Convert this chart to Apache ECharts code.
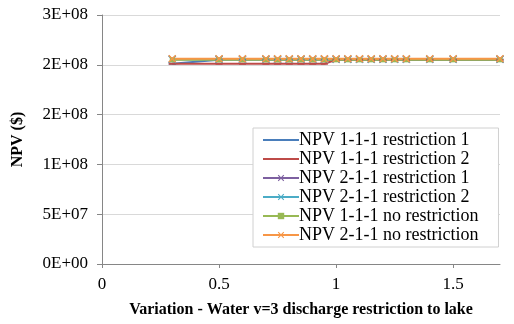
<!DOCTYPE html>
<html>
<head>
<meta charset="utf-8">
<script src="https://cdn.jsdelivr.net/npm/echarts@6/dist/echarts.min.js"></script>
<style>
  html, body { margin: 0; padding: 0; background: #fff; }
  #chart { width: 514px; height: 324px; }
</style>
</head>
<body>
<div id="chart"></div>
<script>
// Variation values along the x axis
const variation = [0.3, 0.5, 0.6, 0.7, 0.75, 0.8, 0.85, 0.9, 0.95, 1.0, 1.05, 1.1, 1.15, 1.2, 1.25, 1.3, 1.4, 1.5, 1.7];

// NPV ($) for each case
const npv111r1 = [2.01e8, 2.05e8, 2.05e8, 2.05e8, 2.05e8, 2.05e8, 2.05e8, 2.05e8, 2.05e8, 2.05e8, 2.05e8, 2.05e8, 2.05e8, 2.05e8, 2.05e8, 2.05e8, 2.05e8, 2.05e8, 2.05e8];
const npv111r2 = [2.01e8, 2.01e8, 2.01e8, 2.01e8, 2.01e8, 2.01e8, 2.01e8, 2.01e8, 2.01e8, 2.05e8, 2.05e8, 2.05e8, 2.05e8, 2.05e8, 2.05e8, 2.05e8, 2.05e8, 2.05e8, 2.05e8];
const npv211r1 = [2.055e8, 2.055e8, 2.055e8, 2.055e8, 2.055e8, 2.055e8, 2.055e8, 2.055e8, 2.055e8, 2.055e8, 2.055e8, 2.055e8, 2.055e8, 2.055e8, 2.055e8, 2.055e8, 2.055e8, 2.055e8, 2.055e8];
const npv211r2 = [2.055e8, 2.055e8, 2.055e8, 2.055e8, 2.055e8, 2.055e8, 2.055e8, 2.055e8, 2.055e8, 2.055e8, 2.055e8, 2.055e8, 2.055e8, 2.055e8, 2.055e8, 2.055e8, 2.055e8, 2.055e8, 2.055e8];
const npv111nr = [2.05e8, 2.05e8, 2.05e8, 2.05e8, 2.05e8, 2.05e8, 2.05e8, 2.05e8, 2.05e8, 2.05e8, 2.05e8, 2.05e8, 2.05e8, 2.05e8, 2.05e8, 2.05e8, 2.05e8, 2.05e8, 2.05e8];
const npv211nr = [2.06e8, 2.06e8, 2.06e8, 2.06e8, 2.06e8, 2.06e8, 2.06e8, 2.06e8, 2.06e8, 2.06e8, 2.06e8, 2.06e8, 2.06e8, 2.06e8, 2.06e8, 2.06e8, 2.06e8, 2.06e8, 2.06e8];

const seriesNames = [
  'NPV 1-1-1 restriction 1',
  'NPV 1-1-1 restriction 2',
  'NPV 2-1-1 restriction 1',
  'NPV 2-1-1 restriction 2',
  'NPV 1-1-1 no restriction',
  'NPV 2-1-1 no restriction'
];

const FONT = '"Liberation Serif", "Times New Roman", serif';
const CROSS = 'path://M0,1.2 L1.2,0 L5,3.8 L8.8,0 L10,1.2 L6.2,5 L10,8.8 L8.8,10 L5,6.2 L1.2,10 L0,8.8 L3.8,5 Z';
// Short horizontal bar centred in a square box (tiny anchor points keep the box square)
const DASH = 'path://M5,0 L5.001,0 L5.001,0.001 Z M1,3.5 L9,3.5 L9,6.5 L1,6.5 Z M5,10 L5.001,10 L5.001,9.999 Z';

function pairs(ys) { return variation.map((x, i) => [x, ys[i]]); }

// Spreadsheet-style scientific format, e.g. 5E+07
function excelExp(v) {
  if (v === 0) return '0E+00';
  const s = v.toExponential(0);
  const [m, e] = s.split('e');
  const sign = e[0] === '-' ? '-' : '+';
  const digits = e.replace(/[+-]/, '').padStart(2, '0');
  return m + 'E' + sign + digits;
}

function mk(name, data, color, symbol, size) {
  return {
    name, type: 'line', data: pairs(data),
    symbol, symbolSize: size, showSymbol: true,
    lineStyle: { color, width: 2 },
    itemStyle: { color },
    emphasis: { disabled: true },
    animation: false
  };
}

const chart = echarts.init(document.getElementById('chart'));
chart.setOption({
  animation: false,
  backgroundColor: '#fff',
  grid: { left: 102, right: 14, top: 15, bottom: 60 },
  legend: {
    orient: 'vertical',
    left: 253, top: 128,
    padding: [3, 20, 3, 9],
    itemGap: 1,
    itemWidth: 36, itemHeight: 8,
    backgroundColor: '#fff',
    borderColor: '#d0d0d0', borderWidth: 1,
    textStyle: { fontFamily: FONT, fontSize: 18, color: '#000', padding: [0, 0, 0, -5] },
    data: seriesNames
  },
  xAxis: {
    type: 'value', min: 0, max: 1.7, interval: 0.5,
    axisLine: { show: true, lineStyle: { color: '#868686' } },
    axisTick: { show: true, length: 4, lineStyle: { color: '#868686' } },
    splitLine: { show: false },
    axisLabel: { fontFamily: FONT, fontSize: 17, color: '#000', margin: 12, showMaxLabel: false },
    name: 'Variation - Water v=3 discharge restriction to lake',
    nameLocation: 'middle', nameGap: 38,
    nameTextStyle: { fontFamily: FONT, fontSize: 16, fontWeight: 'bold', color: '#000' }
  },
  yAxis: {
    type: 'value', min: 0, max: 2.5e8, interval: 5e7,
    axisLine: { show: true, lineStyle: { color: '#868686' } },
    axisTick: { show: true, length: 5, lineStyle: { color: '#868686' } },
    splitLine: { show: true, lineStyle: { color: '#d9d9d9' } },
    axisLabel: { fontFamily: FONT, fontSize: 17, color: '#000', margin: 14, formatter: excelExp },
    name: 'NPV ($)', nameLocation: 'middle', nameGap: 76, nameRotate: 90,
    nameTextStyle: { fontFamily: FONT, fontSize: 16, fontWeight: 'bold', color: '#000' }
  },
  series: [
    mk(seriesNames[0], npv111r1, '#4a7ebb', DASH, 7),
    mk(seriesNames[1], npv111r2, '#be4b48', DASH, 7),
    mk(seriesNames[2], npv211r1, '#7d60a0', CROSS, 8),
    mk(seriesNames[3], npv211r2, '#4bacc6', CROSS, 8),
    mk(seriesNames[4], npv111nr, '#98b954', 'rect', 5),
    mk(seriesNames[5], npv211nr, '#f79646', CROSS, 8)
  ]
});
</script>
</body>
</html>
